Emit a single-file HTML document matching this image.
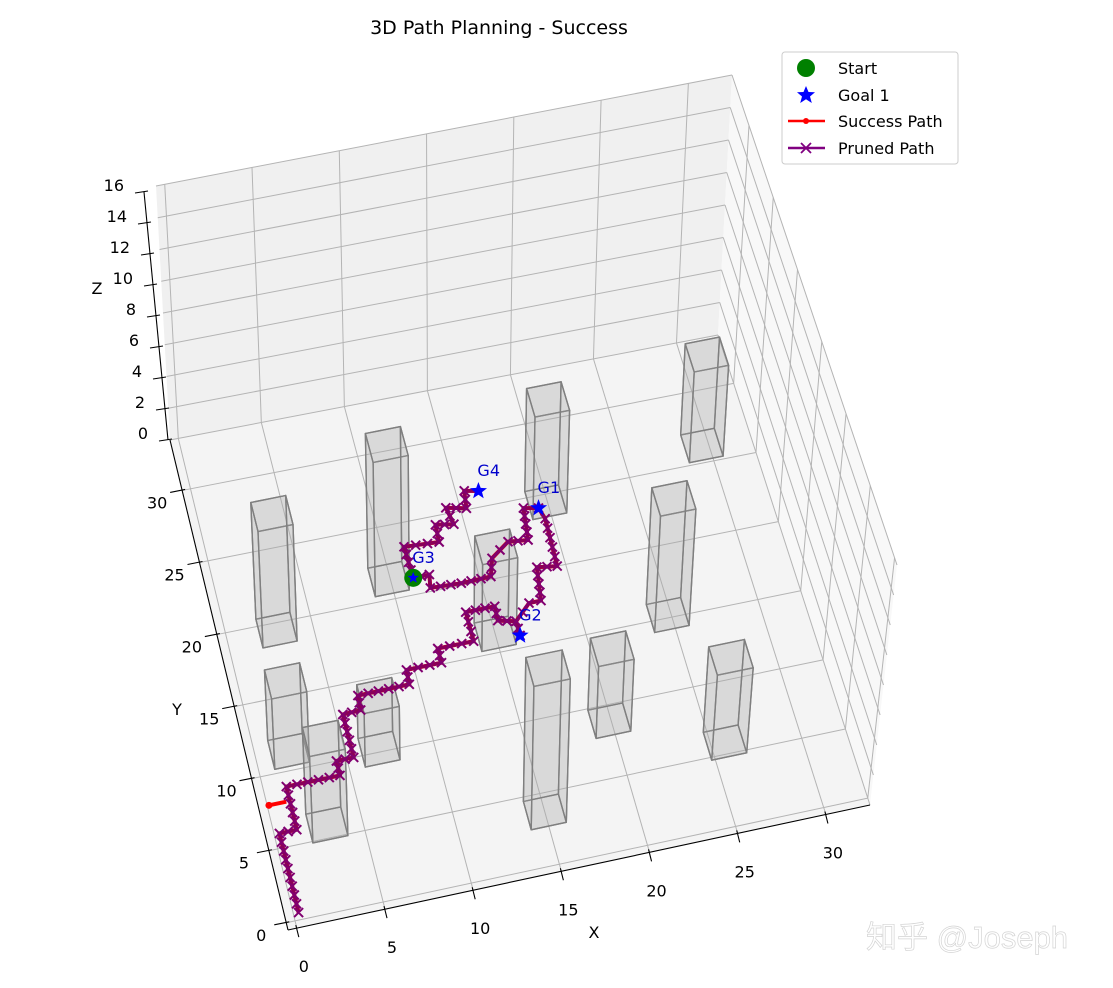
<!DOCTYPE html>
<html><head><meta charset="utf-8">
<style>
html,body{margin:0;padding:0;background:#fff;}
svg{display:block;font-family:"DejaVu Sans","Liberation Sans",sans-serif;}
</style></head>
<body>
<svg id="chart" width="1113" height="988" viewBox="0 0 1113 988" xmlns="http://www.w3.org/2000/svg">
<rect width="1113" height="988" fill="#ffffff"/>
<text x="499" y="34" font-size="19" text-anchor="middle" fill="#000">3D Path Planning - Success</text>
<g id="panes"></g><g id="grid"></g><g id="axes"></g><g id="obstacles"></g><g id="paths"></g><g id="goals"></g>
<g>
<rect x="782" y="52" width="176" height="112" rx="3" fill="#fff" fill-opacity="0.85" stroke="#cccccc"/>
<g><circle cx="806" cy="68" r="9" fill="#008000"/><text x="838" y="74" font-size="16">Start</text></g>
<g><path d="M806,86 L808.5,92 L815,92.3 L810,96.5 L811.8,103 L806,99.3 L800.2,103 L802,96.5 L797,92.3 L803.5,92 Z" fill="#0000ff"/><text x="838" y="101" font-size="16">Goal 1</text></g>
<g><line x1="788" y1="121" x2="825" y2="121" stroke="#ff0000" stroke-width="2.5"/><circle cx="806" cy="121" r="3" fill="#ff0000"/><text x="838" y="127" font-size="16">Success Path</text></g>
<g><line x1="788" y1="148" x2="825" y2="148" stroke="#800080" stroke-width="2.5"/><path d="M801,143 L811,153 M801,153 L811,143" stroke="#800080" stroke-width="1.8"/><text x="838" y="154" font-size="16">Pruned Path</text></g>
</g>
<text x="866" y="948" font-size="31" fill="#ffffff" stroke="#d4d4d4" stroke-width="0.7" font-family="'Liberation Sans','Noto Sans CJK SC',sans-serif">知乎 @Joseph</text>
</svg>
<script>
// ---- data ----
const xTicks=[0,5,10,15,20,25,30];
const yTicks=[0,5,10,15,20,25,30];
const zTicks=[0,2,4,6,8,10,12,14,16];
const pathX=[0.3,0.3,1.3,1.3,4.4,4.4,5.4,5.4,6.45,6.5,9.5,9.55,11.6,11.6,13.7,13.7,15.4,15.35,16.35,16.35,16.35,17.35,18.05,18.35,19.5,19.6,19.4,18.55,18.3,17.15,16,15.65,13.9,12.1,12.25,11.3,11.25,13.3,13.35,14.4,14.2,15.35,15.5,16.3];
const pathY=[0.5,6,6,9,9,10,10,13,13.05,14.05,14.1,15.1,15.1,16.1,16.1,18.15,18.15,17.15,16.85,15.85,16.85,17.9,17.9,20.2,20,23.35,24.15,24.35,22.15,22.3,21.4,20.2,20.15,20.25,21.15,21.15,23.35,23.2,24.4,24.2,25.4,25.1,26.3,26.1];
const stubX=[0.1,1.1];
const stubY=[8,8];
const goalX=[19.4,16.35,11.3,16.3];
const goalY=[24.15,15.85,21.15,26.1];
const goalLabels=["G1","G2","G3","G4"];
const startX=[11.3];
const startY=[21.15];
const obsX=[1.9,8.9,18.9,28.6,23.8,0.9,2,5.9,14,14,18.9,24.8];
const obsY=[18.5,20.4,23.45,25.2,14.2,10.3,4.9,9.2,15.3,2.7,7.9,4.8];
const obsH=[7.5,8.6,6.5,5.7,7.5,4.6,5.7,3.5,5.6,9.5,4.7,5.6];
// ---- projection ----
const X0=-0.5,X1=32.5,Y0=-0.5,Y1=33.5,ZM=16;
const A=[288,930],B=[870,805],C=[718,335],D=[170,440];
const zA=[-12,-240],zB=[27,-240],zC=[14,-260],zD=[-14,-254];
function bil(P,Q,R,S,u,v,i){return (1-u)*(1-v)*P[i]+u*(1-v)*Q[i]+u*v*R[i]+(1-u)*v*S[i];}
function proj(x,y,z){const u=(x-X0)/(X1-X0),v=(y-Y0)/(Y1-Y0);
 return [bil(A,B,C,D,u,v,0)+bil(zA,zB,zC,zD,u,v,0)*z/ZM, bil(A,B,C,D,u,v,1)+bil(zA,zB,zC,zD,u,v,1)*z/ZM];}
const NS="http://www.w3.org/2000/svg";
function mk(tag,parent,attrs){const e=document.createElementNS(NS,tag);for(const k in attrs)e.setAttribute(k,attrs[k]);parent.appendChild(e);return e;}
function pts(arr){return arr.map(p=>p[0].toFixed(1)+","+p[1].toFixed(1)).join(" ");}
const gP=document.getElementById('panes'),gG=document.getElementById('grid'),gA=document.getElementById('axes'),gO=document.getElementById('obstacles'),gPa=document.getElementById('paths'),gGo=document.getElementById('goals');
let e;
e=mk('polygon',gP,{points:pts([proj(X0,Y0,0),proj(X1,Y0,0),proj(X1,Y1,0),proj(X0,Y1,0)]),fill:'#f4f4f4'});


e=mk('polygon',gP,{points:pts([proj(X0,Y1,0),proj(X1,Y1,0),proj(X1,Y1,ZM),proj(X0,Y1,ZM)]),fill:'#f0f0f0'});


e=mk('polygon',gP,{points:pts([proj(X1,Y0,0),proj(X1,Y1,0),proj(X1,Y1,ZM),proj(X1,Y0,ZM)]),fill:'#f8f8f8'});


function gl(p,q){const l=mk('line',gG,{x1:p[0],y1:p[1],x2:q[0],y2:q[1],stroke:'#b4b4b4','stroke-width':1});
 
 }
xTicks.forEach(x=>{gl(proj(x,Y0,0),proj(x,Y1,0));gl(proj(x,Y1,0),proj(x,Y1,ZM));});
yTicks.forEach(y=>{gl(proj(X0,y,0),proj(X1,y,0));gl(proj(X1,y,0),proj(X1,y,ZM));});
zTicks.forEach(z=>{gl(proj(X0,Y1,z),proj(X1,Y1,z));gl(proj(X1,Y0,z),proj(X1,Y1,z));});
function al(p,q,name){const l=mk('line',gA,{x1:p[0],y1:p[1],x2:q[0],y2:q[1],stroke:'#000','stroke-width':1.1});
 
 }
function tx(x,y,s,name,anchor,size){const t=mk('text',gA,{x:x,y:y,'font-size':size||16,'text-anchor':anchor||'middle',fill:'#000'});t.textContent=s;
 
 }
al(proj(X0,Y0,0),proj(X1,Y0,0),'x-axis-line');
al(proj(X0,Y0,0),proj(X0,Y1,0),'y-axis-line');
function zax(z){const p=proj(X0,Y1,z);return [p[0]-2-10*z/ZM,p[1]+6*z/ZM];}
al(zax(0),zax(ZM),'z-axis-line');
xTicks.forEach(x=>{const p=proj(x,Y0,0);al([p[0]-1,p[1]-3],[p[0]+2,p[1]+9],'x-tick');tx(p[0]+7,p[1]+44,String(x),'x-tick-label');});
yTicks.forEach(y=>{const p=proj(X0,y,0);al([p[0]-12,p[1]+2],[p[0]+3,p[1]-1],'y-tick');tx(p[0]-25,p[1]+18,String(y),'y-tick-label');});
zTicks.forEach(z=>{const p=zax(z);al([p[0]-9,p[1]+1],[p[0]+4,p[1]-1],'z-tick');tx(p[0]-20,p[1]-1,String(z),'z-tick-label','end');});
tx(594,938,'X','x-axis-title');
tx(177,715,'Y','y-axis-title');
tx(97,294,'Z','z-axis-title');
obsX.forEach((ox,i)=>{const oy=obsY[i],h=obsH[i],w=2;
 const g=mk('g',gO,{});
 
 
 const c=[[ox,oy],[ox+w,oy],[ox+w,oy+w],[ox,oy+w]];
 const bot=c.map(q=>proj(q[0],q[1],0)),top=c.map(q=>proj(q[0],q[1],h));
 const faces=[bot,top];for(let k=0;k<4;k++){const n=(k+1)%4;faces.push([bot[k],bot[n],top[n],top[k]]);}
 faces.forEach(f=>mk('polygon',g,{points:pts(f),fill:'rgba(170,170,170,0.2)',stroke:'#7f7f7f','stroke-width':1.4,'stroke-linejoin':'round'}));
});
const pp=pathX.map((x,i)=>proj(x,pathY[i],0));
e=mk('polyline',gPa,{points:pts(pp),fill:'none',stroke:'#ff0000','stroke-width':4,'stroke-linejoin':'round'});


const sp=stubX.map((x,i)=>proj(x,stubY[i],0));
e=mk('polyline',gPa,{points:pts(sp),fill:'none',stroke:'#ff0000','stroke-width':4});


e=mk('circle',gPa,{cx:sp[0][0],cy:sp[0][1],r:3.5,fill:'#ff0000'});


e=mk('polyline',gPa,{points:pts(pp),fill:'none',stroke:'#800060','stroke-width':3.6,'stroke-linejoin':'round','stroke-opacity':0.92});


let d='';
for(let i=0;i<pathX.length-1;i++){const dx=pathX[i+1]-pathX[i],dy=pathY[i+1]-pathY[i],L=Math.hypot(dx,dy),n=Math.max(1,Math.round(L*1.6));
 for(let k=0;k<n;k++){const p=proj(pathX[i]+dx*k/n,pathY[i]+dy*k/n,0);d+=`M${(p[0]-4.5).toFixed(1)},${(p[1]-4.5).toFixed(1)}L${(p[0]+4.5).toFixed(1)},${(p[1]+4.5).toFixed(1)}M${(p[0]-4.5).toFixed(1)},${(p[1]+4.5).toFixed(1)}L${(p[0]+4.5).toFixed(1)},${(p[1]-4.5).toFixed(1)}`;}}
e=mk('path',gPa,{d:d,stroke:'#800070','stroke-width':2,fill:'none'});


function star(cx,cy,r){let s='';for(let k=0;k<10;k++){const a=-Math.PI/2+k*Math.PI/5,rr=k%2?r*0.42:r;s+=(k?'L':'M')+(cx+rr*Math.cos(a)).toFixed(1)+','+(cy+rr*Math.sin(a)).toFixed(1);}return s+'Z';}
startX.forEach((x,i)=>{const p=proj(x,startY[i],0);
 e=mk('circle',gGo,{cx:p[0],cy:p[1],r:9,fill:'#008000'});
 
 });
goalX.forEach((x,i)=>{const p=proj(x,goalY[i],0);
 const s=mk('path',gGo,{d:star(p[0],p[1],i===2?6:9),fill:'#0000ff'});
 
 
 const t=mk('text',gGo,{x:p[0]-1,y:p[1]-15,'font-size':16,fill:'#0000cc'});t.textContent=goalLabels[i];
 
 });
</script>
</body></html>
